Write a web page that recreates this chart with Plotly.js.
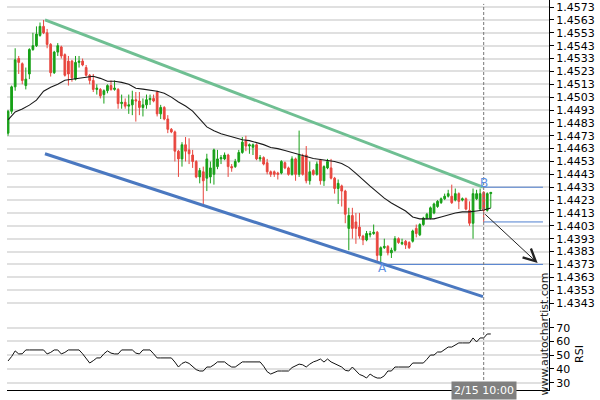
<!DOCTYPE html>
<html>
<head>
<meta charset="utf-8">
<script src="https://cdn.plot.ly/plotly-3.0.1.min.js"></script>
<style>html,body{margin:0;padding:0;background:#fff;}#chart{width:600px;height:400px;}</style>
</head>
<body>
<div id="chart"></div>
<script>
// ---- data ----
const openP = [1.4475,1.4492,1.4511,1.4533,1.4529,1.4512,1.4521,1.4540,1.4543,1.4551,
1.4558,1.4553,1.4544,1.4522,1.4538,1.4542,1.4536,1.4531,1.4531,1.4517,
1.4530,1.4531,1.4526,1.4520,1.4516,1.4509,1.4509,1.4505,1.4508,1.4512,
1.4509,1.4509,1.4498,1.4499,1.4496,1.4497,1.4501,1.4500,1.4495,1.4497,
1.4501,1.4502,1.4507,1.4490,1.4495,1.4486,1.4478,1.4476,1.4461,1.4455,
1.4466,1.4462,1.4458,1.4453,1.4441,1.4445,1.4440,1.4441,1.4443,1.4449,
1.4455,1.4455,1.4458,1.4449,1.4449,1.4453,1.4460,1.4469,1.4465,1.4464,
1.4466,1.4455,1.4456,1.4452,1.4445,1.4445,1.4444,1.4444,1.4452,1.4448,
1.4443,1.4455,1.4443,1.4457,1.4458,1.4438,1.4446,1.4443,1.4454,1.4438,
1.4448,1.4448,1.4440,1.4432,1.4434,1.4430,1.4401,1.4411,1.4406,1.4402,
1.4395,1.4392,1.4396,1.4397,1.4398,1.4380,1.4386,1.4387,1.4382,1.4384,
1.4393,1.4389,1.4391,1.4390,1.4391,1.4401,1.4396,1.4404,1.4409,1.4409,
1.4413,1.4418,1.4421,1.4424,1.4426,1.4426,1.4423,1.4428,1.4423,1.4424,
1.4415,1.4405,1.4424,1.4416,1.4429,1.4415,1.4428];
const highP = [1.4493,1.4512,1.4541,1.4535,1.4530,1.4526,1.4541,1.4553,1.4558,1.4561,
1.4563,1.4556,1.4545,1.4539,1.4545,1.4543,1.4537,1.4535,1.4532,1.4535,
1.4535,1.4533,1.4528,1.4521,1.4521,1.4513,1.4510,1.4509,1.4513,1.4516,
1.4516,1.4510,1.4505,1.4502,1.4505,1.4508,1.4507,1.4507,1.4502,1.4505,
1.4505,1.4505,1.4508,1.4497,1.4496,1.4489,1.4479,1.4477,1.4462,1.4468,
1.4472,1.4471,1.4462,1.4454,1.4448,1.4449,1.4459,1.4453,1.4463,1.4462,
1.4458,1.4460,1.4459,1.4451,1.4455,1.4462,1.4472,1.4473,1.4467,1.4467,
1.4467,1.4458,1.4457,1.4455,1.4446,1.4446,1.4445,1.4454,1.4453,1.4449,
1.4457,1.4456,1.4477,1.4459,1.4465,1.4453,1.4447,1.4453,1.4455,1.4450,
1.4455,1.4455,1.4441,1.4439,1.4435,1.4431,1.4417,1.4417,1.4413,1.4413,
1.4396,1.4399,1.4399,1.4404,1.4399,1.4387,1.4393,1.4388,1.4386,1.4395,
1.4394,1.4393,1.4392,1.4391,1.4400,1.4404,1.4405,1.4410,1.4413,1.4418,
1.4421,1.4423,1.4425,1.4428,1.4431,1.4435,1.4432,1.4429,1.4425,1.4425,
1.4422,1.4432,1.4431,1.4432,1.4430,1.4429,1.4429];
const lowP = [1.4473,1.4490,1.4508,1.4521,1.4513,1.4509,1.4517,1.4539,1.4542,1.4550,
1.4552,1.4541,1.4519,1.4521,1.4535,1.4533,1.4519,1.4512,1.4515,1.4516,
1.4526,1.4527,1.4519,1.4513,1.4507,1.4505,1.4502,1.4498,1.4506,1.4508,
1.4508,1.4494,1.4494,1.4494,1.4490,1.4489,1.4484,1.4489,1.4488,1.4494,
1.4497,1.4499,1.4488,1.4486,1.4485,1.4475,1.4475,1.4453,1.4441,1.4449,
1.4453,1.4451,1.4448,1.4440,1.4436,1.4420,1.4430,1.4436,1.4435,1.4447,
1.4451,1.4454,1.4441,1.4445,1.4448,1.4452,1.4459,1.4461,1.4459,1.4458,
1.4454,1.4453,1.4450,1.4443,1.4441,1.4441,1.4439,1.4443,1.4447,1.4442,
1.4442,1.4438,1.4441,1.4442,1.4436,1.4435,1.4442,1.4442,1.4435,1.4434,
1.4447,1.4439,1.4428,1.4420,1.4418,1.4405,1.4384,1.4393,1.4389,1.4393,
1.4388,1.4391,1.4394,1.4396,1.4375,1.4374,1.4385,1.4380,1.4378,1.4383,
1.4389,1.4388,1.4385,1.4385,1.4390,1.4394,1.4395,1.4403,1.4408,1.4408,
1.4412,1.4417,1.4420,1.4423,1.4425,1.4420,1.4422,1.4416,1.4422,1.4415,
1.4403,1.4393,1.4423,1.4415,1.4406,1.4414,1.4417];
const closeP = [1.4492,1.4511,1.4532,1.4530,1.4516,1.4517,1.4540,1.4543,1.4552,1.4558,
1.4553,1.4544,1.4522,1.4538,1.4543,1.4535,1.4520,1.4521,1.4518,1.4530,
1.4531,1.4528,1.4520,1.4516,1.4509,1.4510,1.4504,1.4508,1.4512,1.4509,
1.4510,1.4498,1.4499,1.4496,1.4497,1.4501,1.4500,1.4495,1.4497,1.4501,
1.4502,1.4500,1.4490,1.4495,1.4486,1.4478,1.4476,1.4461,1.4455,1.4466,
1.4461,1.4459,1.4453,1.4441,1.4446,1.4438,1.4455,1.4448,1.4462,1.4455,
1.4456,1.4458,1.4449,1.4448,1.4453,1.4460,1.4468,1.4465,1.4466,1.4466,
1.4455,1.4456,1.4451,1.4445,1.4443,1.4443,1.4443,1.4453,1.4448,1.4443,
1.4455,1.4443,1.4458,1.4443,1.4438,1.4445,1.4443,1.4451,1.4438,1.4449,
1.4453,1.4440,1.4432,1.4436,1.4430,1.4412,1.4411,1.4401,1.4401,1.4395,
1.4392,1.4397,1.4397,1.4398,1.4380,1.4386,1.4387,1.4382,1.4384,1.4393,
1.4390,1.4390,1.4388,1.4386,1.4399,1.4397,1.4404,1.4409,1.4412,1.4417,
1.4420,1.4422,1.4424,1.4426,1.4428,1.4421,1.4428,1.4422,1.4424,1.4416,
1.4405,1.4428,1.4428,1.4428,1.4415,1.4428,1.4429];
const rsiVals = [45.8,49,53.1,50.9,51,53.8,53.8,53.8,53.8,53.8,
53.8,50.9,52,53.8,53.8,50.9,52,53.8,53.8,53.8,
53.8,51,48,44.3,46,48,48,51,53.1,51.5,
50.9,50.9,53.8,53.8,53.8,53.8,51.5,50.9,53.8,53.8,
53.8,51,48,48,48,48,48,45,41.4,44,
45.1,44,41.4,39.5,38.5,38.5,41.4,41.4,43,45.1,
45.1,45.1,43,41.4,41.4,43.5,45.1,45.1,45.1,45.1,
45.1,45.1,42,38,36.3,37.5,38.5,38.5,38.5,38.5,
41,42.1,43.5,43,41.4,43.5,45.1,46,47.2,45,
47.2,45.1,44,43,41.4,39,38.5,41.4,38.5,36,
35,33.4,36.3,34.5,33.4,33.4,35,38.5,38.5,41.4,
41.4,41.4,41.4,41.4,44.3,44.3,44.3,44.3,47,50.1,
50.1,52.3,52.3,54,55.9,55.9,57.5,58.9,58.9,58.9,
58.9,62.5,59.6,62.5,62.5,65.4,65.4];
// moving average, read at every second candle
const maIdx = [];
for (let k = 0; k <= 136; k += 2) maIdx.push(k);
const maVals = [1.44853,1.44915,1.44938,1.44968,1.45007,1.45076,1.45107,1.45130,1.45161,1.45168,
1.45176,1.45184,1.45192,1.45176,1.45153,1.45153,1.45145,1.45130,1.45099,1.45092,
1.45084,1.45076,1.45061,1.45030,1.44992,1.44961,1.44922,1.44861,1.44799,1.44768,
1.44745,1.44730,1.44715,1.44699,1.44692,1.44676,1.44661,1.44638,1.44630,1.44615,
1.44599,1.44584,1.44568,1.44553,1.44545,1.44538,1.44530,1.44515,1.44484,1.44438,
1.44384,1.44338,1.44292,1.44245,1.44207,1.44176,1.44145,1.44099,1.44084,1.44084,
1.44084,1.44099,1.44115,1.44130,1.44138,1.44138,1.44145,1.44153,1.44168];
// channel lines (candle index, price)
const upperIdx = [10.4, 133.8], upperVal = [1.4563, 1.4433];
const lowerIdx = [10.4, 133.8], lowerVal = [1.4459, 1.4348];
// pattern levels
const levelVals = [1.4433, 1.4406, 1.4373];
const levelStart = [134, 134, 105.5];
const levelEnd = 150.7;
const arrowFrom = [134, 1.4413], arrowTo = [149.2, 1.4374];
const pointA = [105.5, 1.4370], pointB = [134, 1.44365];
const markerIndex = 134, markerLabel = '2/15 10:00';
const priceTicks = [];
for (let k = 0; k <= 23; k++) priceTicks.push(+(1.4343 + k * 0.001).toFixed(4));
const rsiTicks = [30, 40, 50, 60, 70];

const idx = openP.map((_, i) => i);
const GREEN = '#17a017', RED = '#e8463e', BLUEL = '#4f7fcf';
const FONT = 'DejaVu Sans, Verdana, sans-serif';

const traces = [
  {type: 'candlestick', x: idx, open: openP, high: highP, low: lowP, close: closeP,
   xaxis: 'x', yaxis: 'y', whiskerwidth: 0,
   increasing: {line: {color: GREEN, width: 1}, fillcolor: GREEN},
   decreasing: {line: {color: RED, width: 1}, fillcolor: RED},
   hoverinfo: 'skip', showlegend: false},
  {type: 'scatter', mode: 'lines', x: maIdx, y: maVals, xaxis: 'x', yaxis: 'y',
   line: {color: '#1a1a1a', width: 1.1}, hoverinfo: 'skip', showlegend: false},
  {type: 'scatter', mode: 'lines', x: upperIdx, y: upperVal, xaxis: 'x', yaxis: 'y',
   line: {color: '#6fbf92', width: 3}, hoverinfo: 'skip', showlegend: false},
  {type: 'scatter', mode: 'lines', x: lowerIdx, y: lowerVal, xaxis: 'x', yaxis: 'y',
   line: {color: '#4a78c0', width: 3}, hoverinfo: 'skip', showlegend: false},
  {type: 'scatter', mode: 'lines', x: idx, y: rsiVals, xaxis: 'x', yaxis: 'y2',
   line: {color: '#111', width: 1}, hoverinfo: 'skip', showlegend: false}
];
levelVals.forEach((v, k) => {
  traces.push({type: 'scatter', mode: 'lines', x: [levelStart[k], levelEnd], y: [v, v],
    xaxis: 'x', yaxis: 'y', line: {color: BLUEL, width: 1}, hoverinfo: 'skip', showlegend: false});
});

const layout = {
  width: 600, height: 400,
  margin: {l: 7, r: 51, t: 0, b: 10},
  paper_bgcolor: '#fff', plot_bgcolor: '#fff',
  font: {family: FONT, size: 11, color: '#000'},
  showlegend: false,
  xaxis: {domain: [0, 1], range: [-0.3, 152.4], anchor: 'y2', showgrid: false, zeroline: false,
          showticklabels: false, ticks: '', showline: true, linecolor: '#000', linewidth: 1,
          rangeslider: {visible: false}, fixedrange: true},
  yaxis: {domain: [0.2026, 1], range: [1.43368, 1.45785], side: 'right', anchor: 'x',
          tickvals: priceTicks, ticktext: priceTicks.map(v => v.toFixed(4)),
          ticklabeloverflow: 'allow',
          ticks: 'outside', ticklen: 4, tickcolor: '#000', showline: true, linecolor: '#000', linewidth: 1,
          gridcolor: '#e0e0e0', gridwidth: 2, zeroline: false, tickfont: {family: FONT, size: 11, color: '#000'}},
  yaxis2: {domain: [0, 0.1846], range: [24.7, 77], side: 'right', anchor: 'x',
          tickvals: rsiTicks, ticks: 'outside', ticklen: 4, tickcolor: '#000',
          ticklabeloverflow: 'allow',
          showline: true, linecolor: '#000', linewidth: 1,
          gridcolor: '#e0e0e0', gridwidth: 2, zeroline: false,
          tickfont: {family: FONT, size: 11, color: '#000'},
          title: {text: 'RSI', font: {family: FONT, size: 11, color: '#000'}, standoff: 6}},
  shapes: [
    {type: 'line', xref: 'x', yref: 'paper', x0: markerIndex, x1: markerIndex, y0: 0, y1: 0.99,
     line: {color: '#777', width: 1, dash: '3px,2px'}}
  ],
  annotations: [
    {x: arrowTo[0], y: arrowTo[1], ax: arrowFrom[0], ay: arrowFrom[1], xref: 'x', yref: 'y',
     axref: 'x', ayref: 'y', showarrow: true, text: '', arrowhead: 5, arrowsize: 2.4,
     arrowwidth: 1, arrowcolor: '#222'},
    {x: pointA[0], y: pointA[1], xref: 'x', yref: 'y', text: 'A', showarrow: false,
     font: {family: FONT, size: 12, color: '#5b8fe3'}, yanchor: 'middle'},
    {x: pointB[0], y: pointB[1], xref: 'x', yref: 'y', text: 'B', showarrow: false,
     font: {family: FONT, size: 12, color: '#5b8fe3'}, yanchor: 'middle'},
    {x: markerIndex, y: 0, xref: 'x', yref: 'paper', text: markerLabel, showarrow: false,
     yanchor: 'middle', bgcolor: '#808080', borderpad: 2,
     font: {family: FONT, size: 11, color: '#fff'}},
    {x: 0.9918, y: 0.1436, xref: 'paper', yref: 'paper', text: 'www.autochartist.com',
     textangle: -90, showarrow: false, xanchor: 'center', yanchor: 'middle',
     font: {family: FONT, size: 11, color: '#222'}}
  ]
};

Plotly.newPlot('chart', traces, layout, {staticPlot: true, displayModeBar: false});
</script>
</body>
</html>
